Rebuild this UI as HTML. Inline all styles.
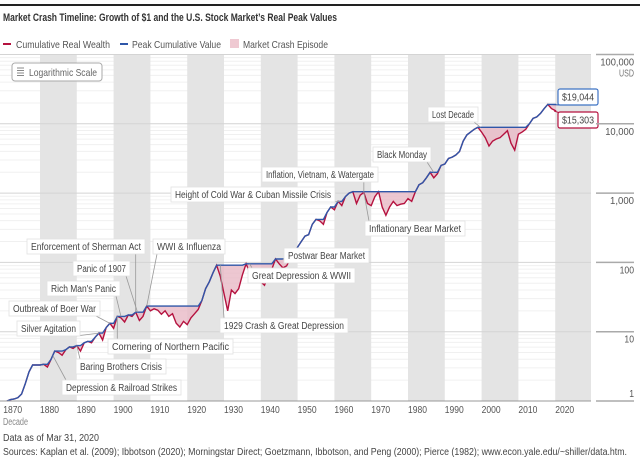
<!DOCTYPE html>
<html><head><meta charset="utf-8"><style>
html,body{margin:0;padding:0;background:#fff;}
body{width:640px;height:460px;overflow:hidden;}
svg text{font-family:"Liberation Sans",sans-serif;}
</style></head><body>
<svg id="chart" width="640" height="460" viewBox="0 0 640 460" xmlns="http://www.w3.org/2000/svg">
<rect x="0" y="4" width="640" height="2" fill="#222"/>
<text x="3" y="21" font-size="11" font-weight="bold" fill="#333" textLength="334" lengthAdjust="spacingAndGlyphs">Market Crash Timeline: Growth of $1 and the U.S. Stock Market’s Real Peak Values</text>
<g>
 <g><rect x="3" y="43" width="8" height="2" fill="#b5123f"/><text x="16" y="48" font-size="10.5" fill="#555" textLength="94" lengthAdjust="spacingAndGlyphs">Cumulative Real Wealth</text></g>
 <g><rect x="120" y="43" width="8" height="2" fill="#2f56a8"/><text x="132" y="48" font-size="10.5" fill="#555" textLength="89" lengthAdjust="spacingAndGlyphs">Peak Cumulative Value</text></g>
 <g><rect x="230" y="39" width="9" height="9" fill="#efc9d2"/><text x="243" y="48" font-size="10.5" fill="#555" textLength="85" lengthAdjust="spacingAndGlyphs">Market Crash Episode</text></g>
</g>
<g id="grid"></g>
<g id="bands"></g>
<g id="majors"></g>
<g id="marks"></g>
<g id="annots"></g>
<g id="axes"></g>
<g>
 <rect x="12" y="63" width="90" height="18" rx="3" fill="#fff" stroke="#aaa"/>
 <g stroke="#888" stroke-width="1"><line x1="17" y1="68" x2="24" y2="68"/><line x1="17" y1="70.5" x2="24" y2="70.5"/><line x1="17" y1="73" x2="24" y2="73"/><line x1="17" y1="75.5" x2="24" y2="75.5"/></g>
 <text x="29" y="76" font-size="10.5" fill="#666" textLength="68" lengthAdjust="spacingAndGlyphs">Logarithmic Scale</text>
</g>
<text x="3" y="425" font-size="10" fill="#888" textLength="25" lengthAdjust="spacingAndGlyphs">Decade</text>
<text x="3" y="441" font-size="10" fill="#444" textLength="96" lengthAdjust="spacingAndGlyphs">Data as of Mar 31, 2020</text>
<text x="3" y="455" font-size="10" fill="#444" textLength="624" lengthAdjust="spacingAndGlyphs">Sources: Kaplan et al. (2009); Ibbotson (2020); Morningstar Direct; Goetzmann, Ibbotson, and Peng (2000); Pierce (1982); www.econ.yale.edu/~shiller/data.htm.</text>
</svg>
<script>
const years=[1871,1872,1873,1874,1875,1876,1877,1878,1879,1880,1881,1882,1883,1884,1885,1886,1887,1888,1889,1890,1891,1892,1893,1894,1895,1896,1897,1898,1899,1900,1901,1902,1903,1904,1905,1906,1907,1908,1909,1910,1911,1912,1913,1914,1915,1916,1917,1918,1919,1920,1921,1922,1923,1924,1925,1926,1927,1928,1929,1930,1931,1932,1933,1934,1935,1936,1937,1938,1939,1940,1941,1942,1943,1944,1945,1946,1947,1948,1949,1950,1951,1952,1953,1954,1955,1956,1957,1958,1959,1960,1961,1962,1963,1964,1965,1966,1967,1968,1969,1970,1971,1972,1973,1974,1975,1976,1977,1978,1979,1980,1981,1982,1983,1984,1985,1986,1987,1988,1989,1990,1991,1992,1993,1994,1995,1996,1997,1998,1999,2000,2001,2002,2003,2004,2005,2006,2007,2008,2009,2010,2011,2012,2013,2014,2015,2016,2017,2018,2019,2020.25];
const wealth=[1.00,1.05,1.07,1.12,1.26,1.78,2.63,3.31,3.31,3.31,3.39,3.09,3.98,5.25,5.01,4.57,5.50,6.03,5.75,6.31,5.25,6.92,7.24,6.92,8.32,9.55,7.59,11.5,13.2,11.2,16.6,15.8,13.8,17.4,16.6,19.1,14.5,16.6,23.4,20.0,21.4,20.4,17.8,20.0,16.6,18.2,13.2,11.7,14.1,12.6,15.8,18.2,20.9,28.2,41.7,52.5,70.8,91.2,63.1,35.5,20.0,39.8,35.5,41.7,66.1,95.5,70.8,60.3,66.1,52.5,46.8,66.1,79.4,112,95.5,83.2,89.1,112,132,166,200,240,251,355,417,398,355,525,631,575,759,661,891,1000,1047,708,933,1023,708,661,891,1047,631,479,631,759,661,692,708,832,759,1047,1318,1413,1660,1995,1660,1905,2512,2630,3162,3311,3548,3981,5623,6918,7586,8318,8913,7586,6310,4786,5623,6026,6310,7079,7943,5248,4169,7079,7586,8318,10000,12023,12589,14125,16596,19044,16596,15303];
const yTicks=[1,10,100,1000,10000,100000];
const yTickLabels=["1","10","100","1,000","10,000","100,000"];
const decades=[1870,1880,1890,1900,1910,1920,1930,1940,1950,1960,1970,1980,1990,2000,2010,2020];
const bandStarts=[1880,1900,1920,1940,1960,1980,2000,2020];
const endPeak=19044, endWealth=15303;

const NS="http://www.w3.org/2000/svg";
const X0=40, YR=3.68, PLOT_R=591, PLOT_T=55, PLOT_B=401, DEC=69.3;
function xs(yr){return X0+(yr-1880)*YR;}
function ys(v){return PLOT_B-DEC*Math.log10(v);}
function mk(tag,attrs,parent){const e=document.createElementNS(NS,tag);for(const k in attrs)e.setAttribute(k,attrs[k]);parent.appendChild(e);return e;}

const grid=document.getElementById('grid');
for(let i=0;i<yTicks.length-1;i++){
  for(let m=2;m<10;m++){
    const y=ys(yTicks[i]*m);
    const l=mk('line',{x1:0,x2:PLOT_R,y1:y,y2:y,stroke:'#f0f0f0',"stroke-width":1},grid);
    
    
  }
}
const bands=document.getElementById('bands');
bandStarts.forEach(b=>{
  const x1=Math.max(xs(b),0), x2=Math.min(xs(b+10),PLOT_R);
  const r=mk('rect',{x:x1,y:PLOT_T,width:x2-x1,height:PLOT_B-PLOT_T,fill:'#e4e4e4'},bands);
  
  
});
const majors=document.getElementById('majors');
yTicks.forEach(t=>{
  const y=ys(t);
  const l=mk('line',{x1:0,x2:PLOT_R,y1:y,y2:y,stroke:'#d4d4d4',"stroke-width":1},majors);
  
  
});

const peak=[];let mx=0;wealth.forEach(v=>{mx=Math.max(mx,v);peak.push(mx);});
const marks=document.getElementById('marks');
let fillD='M'+years.map((yr,i)=>xs(yr).toFixed(1)+','+ys(peak[i]).toFixed(1)).join('L');
for(let i=years.length-1;i>=0;i--)fillD+='L'+xs(years[i]).toFixed(1)+','+ys(wealth[i]).toFixed(1);
fillD+='Z';
const crash=mk('path',{d:fillD,fill:'#e9b9c6',"fill-opacity":0.8},marks);


const wl=mk('path',{d:'M'+years.map((yr,i)=>xs(yr).toFixed(1)+','+ys(wealth[i]).toFixed(1)).join('L'),fill:'none',stroke:'#b5123f',"stroke-width":1.4},marks);


const pl=mk('path',{d:'M'+years.map((yr,i)=>xs(yr).toFixed(1)+','+ys(peak[i]).toFixed(1)).join('L'),fill:'none',stroke:'#2f56a8',"stroke-width":1.4},marks);



const axes=document.getElementById('axes');
const base=mk('line',{x1:0,x2:PLOT_R,y1:PLOT_B,y2:PLOT_B,stroke:'#999',"stroke-width":1},axes);


decades.forEach(d=>{
  const t=mk('text',{x:Math.max(xs(d),3),y:413,"font-size":10,fill:'#555',textLength:19,lengthAdjust:'spacingAndGlyphs'},axes);
  t.textContent=d;
  
  
});
yTicks.forEach((v,i)=>{
  const y=ys(v);
  const l=mk('line',{x1:596,x2:634,y1:y,y2:y,stroke:'#aaa',"stroke-width":1.5},axes);
  
  
  const lbl=yTickLabels[i];
  const t=mk('text',{x:634,y:y+(i===0?-4:11),"text-anchor":'end',"font-size":10,fill:'#555',textLength:lbl.length*4.8,lengthAdjust:'spacingAndGlyphs'},axes);
  t.textContent=lbl;
  
  
});
const usd=mk('text',{x:634,y:ys(100000)+22,"text-anchor":'end',"font-size":10,fill:'#777',textLength:15,lengthAdjust:'spacingAndGlyphs'},axes);
usd.textContent='USD';



// annotations [text, x, y(top), width, leaderYear, leaderValue]
const annots=document.getElementById('annots');
const notes=[
 ["Lost Decade",428,107,50,1999.7,8913],
 ["Black Monday",373,147,58,1987,1995],
 ["Inflation, Vietnam, & Watergate",262,167,116,1968,1023],
 ["Height of Cold War & Cuban Missile Crisis",171,187,164,1961.5,759],
 ["Inflationary Bear Market",365,221,100,1968,1023],
 ["Postwar Bear Market",284,248,85,1946,112],
 ["Great Depression & WWII",248,268,107,1937,95.5],
 ["1929 Crash & Great Depression",220,318,128,1929,91.2],
 ["Enforcement of Sherman Act",27,239,118,1906,19.1],
 ["WWI & Influenza",153,239,72,1909,23.4],
 ["Panic of 1907",73,261,57,1906.5,19.1],
 ["Rich Man's Panic",47,281,73,1902,16.6],
 ["Outbreak of Boer War",9,301,91,1899,13.2],
 ["Silver Agitation",17,321,63,1896,9.55],
 ["Cornering of Northern Pacific",108,339,125,1901,16.6],
 ["Baring Brothers Crisis",76,359,90,1890,6.31],
 ["Depression & Railroad Strikes",62,380,119,1883.5,4.5]
];
notes.forEach(n=>{
  const g=mk('g',{},annots);
  
  
  const w=n[3];
  const lx=xs(n[4]), ly=ys(n[5]);
  const ax=Math.min(Math.max(lx,n[1]+4),n[1]+w-4);
  const ay= ly< n[2] ? n[2] : n[2]+15;
  mk('line',{x1:ax,y1:ay,x2:lx,y2:ly,stroke:'#999',"stroke-width":0.8},g);
  mk('rect',{x:n[1],y:n[2],width:w,height:15,fill:'#fff',stroke:'#e2e2e2',"stroke-width":0.8},g);
  const t=mk('text',{x:n[1]+4,y:n[2]+11,"font-size":10,fill:'#444',textLength:w-8,lengthAdjust:'spacingAndGlyphs'},g);
  t.textContent=n[0];
});
function endLabel(txt,y,col,name){
  const g=mk('g',{},annots);
  
  
  mk('rect',{x:558,y:y,width:40,height:16,rx:2,fill:'#fff',stroke:col,"stroke-width":1.2},g);
  const t=mk('text',{x:562,y:y+11.5,"font-size":10,fill:'#444',textLength:32,lengthAdjust:'spacingAndGlyphs'},g);
  t.textContent=txt;
}
const lastX=xs(years[years.length-1]);
mk('line',{x1:xs(2018),y1:ys(endPeak),x2:560,y2:105,stroke:'#2f56a8'},annots);
mk('line',{x1:lastX-2,y1:ys(endWealth),x2:560,y2:113,stroke:'#b5123f'},annots);
endLabel('$'+endPeak.toLocaleString('en-US'),89,'#3f73c4','peak-value-label');
endLabel('$'+endWealth.toLocaleString('en-US'),112,'#b5123f','wealth-value-label');
</script>
</body></html>
